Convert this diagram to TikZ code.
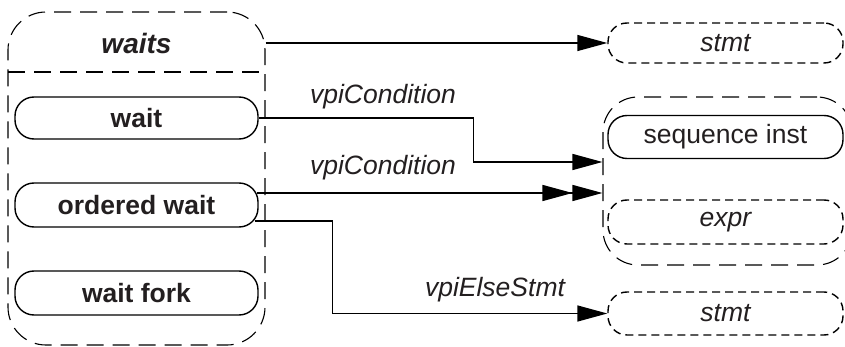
\documentclass[tikz,border=0pt]{standalone}
\usepackage{fontspec}
\setmainfont{Liberation Sans}
\usetikzlibrary{arrows.meta,calc}
\definecolor{ink}{HTML}{231F20}
\tikzset{
  every node/.style={text=ink},
  txt/.style={font=\fontsize{26.5}{30}\selectfont},
  solidbox/.style={draw=black, line width=1.4pt, rounded corners=19pt, minimum width=243pt, inner sep=0pt, txt, font=\fontsize{26.5}{30}\selectfont\bfseries},
  rbox/.style={draw=black, line width=1.4pt, rounded corners=19pt, minimum width=235pt, inner sep=0pt, txt},
  dbox/.style={draw=black, line width=1.4pt, dash pattern=on 8pt off 5pt, rounded corners=19pt, minimum width=235pt, inner sep=0pt, font=\fontsize{26.5}{30}\selectfont\itshape},
  cont/.style={draw=black, line width=1.1pt, dash pattern=on 17pt off 9pt, rounded corners=38pt, inner sep=0pt},
  conn/.style={draw=black, line width=1.4pt},
  tip/.style={-{Triangle[length=30pt,width=16pt]}},
  dtip/.style={-{Triangle[length=30pt,width=16pt,sep=0pt]Triangle[length=30pt,width=16pt]}},
  lbl/.style={font=\fontsize{26.5}{30}\selectfont\itshape, inner sep=0pt}
}
\begin{document}
\begin{tikzpicture}[x=1pt,y=-1pt]
\clip (0,0) rectangle (845,347);
\fill[white] (0,0) rectangle (845,347);
% left container
\node[cont, minimum width=257pt, minimum height=333pt] (waitsbox) at (136.5,178.5) {};
\coordinate (sepL) at (8,72);
\coordinate (sepR) at (265,72);
\draw[line width=1.1pt, dash pattern=on 17pt off 9pt] (sepL) -- (sepR);
\node[font=\fontsize{28}{32}\selectfont\bfseries\itshape, inner sep=0pt] (waits) at (136.5,43) {waits};
\node[solidbox, minimum height=42pt] (wait) at (136.5,118) {wait};
\node[solidbox, minimum height=44pt] (owait) at (136.5,205) {ordered wait};
\node[solidbox, minimum height=44pt] (wfork) at (136.5,293) {wait fork};
% right side
\node[dbox, minimum height=40pt] (stmt1) at (725.5,43) {stmt};
\node[cont, minimum width=249pt, minimum height=168pt, rounded corners=35pt] (seqbox) at (727.5,181) {};
\node[rbox, minimum height=43pt] (seqinst) at (725.5,137) {sequence inst};
\node[dbox, minimum height=44pt] (expr) at (725.5,222) {expr};
\node[dbox, minimum height=43pt] (stmt2) at (725.5,313.5) {stmt};
% connectors
\draw[conn, tip] (waitsbox.east |- stmt1.west) -- (stmt1.west);
\draw[conn, tip] (wait.east) -- ++(215,0) |- ($(seqbox.west)+(0,-19)$);
\draw[conn, dtip] ($(owait.east)+(-1.5,-12)$) -- ($(seqbox.west)+(0,12)$);
\draw[conn, tip] ($(owait.east)+(-4,16)$) -- ++(78,0) |- (stmt2.west);
% labels
\node[lbl] (l1) at (383,97) {vpiCondition};
\node[lbl] (l2) at (383,168) {vpiCondition};
\node[lbl] (l3) at (495,290) {vpiElseStmt};
\end{tikzpicture}
\end{document}
